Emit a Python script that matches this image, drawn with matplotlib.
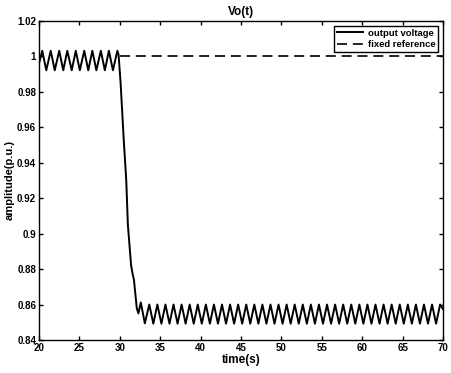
import matplotlib.pyplot as plt

# pre-disturbance oscillation around 1.0 (peaks / troughs)
pre_t = [20.0, 20.4, 20.9, 21.45, 21.95, 22.5, 23.0, 23.5, 24.05, 24.55, 25.05,
         25.6, 26.1, 26.6, 27.1, 27.65, 28.15, 28.65, 29.15, 29.7]
pre_v = [0.996, 1.0032, 0.9922, 1.0032, 0.9922, 1.0032, 0.9922, 1.0032, 0.9922,
         1.0032, 0.9922, 1.0032, 0.9922, 1.0032, 0.9922, 1.0032, 0.9922, 1.0032,
         0.9922, 1.0032]

# transient drop after t = 30 s
drop_t = [29.85, 30.1, 30.5, 30.8, 31.0, 31.4, 31.6, 31.75, 32.1, 32.3, 32.6, 33.1]
drop_v = [1.001, 0.985, 0.952, 0.930, 0.905, 0.882, 0.877, 0.874, 0.858, 0.855,
          0.8612, 0.8494]

# post-disturbance oscillation (peaks ~0.860, troughs ~0.849)
post_peak_t = [33.65, 34.65, 35.65, 36.65, 37.65, 38.65, 39.65, 40.65, 41.65, 42.65,
               43.65, 44.65, 45.65, 46.65, 47.65, 48.65, 49.65, 50.65, 51.65, 52.65,
               53.65, 54.65, 55.65, 56.65, 57.65, 58.65, 59.65, 60.65, 61.65, 62.65,
               63.65, 64.65, 65.65, 66.65, 67.65, 68.65, 69.65]
post_trough_t = [34.15, 35.15, 36.15, 37.15, 38.15, 39.15, 40.15, 41.15, 42.15, 43.15,
                 44.15, 45.15, 46.15, 47.15, 48.15, 49.15, 50.15, 51.15, 52.15, 53.15,
                 54.15, 55.15, 56.15, 57.15, 58.15, 59.15, 60.15, 61.15, 62.15, 63.15,
                 64.15, 65.15, 66.15, 67.15, 68.15, 69.15]
post_peak_v = 0.8600
post_trough_v = 0.8492
end_t, end_v = 70.0, 0.8575

ref_t = [30.0, 70.0]
ref_v = [1.0, 1.0]

xticks = [20, 25, 30, 35, 40, 45, 50, 55, 60, 65, 70]
yticks = [0.84, 0.86, 0.88, 0.9, 0.92, 0.94, 0.96, 0.98, 1.0, 1.02]
ytick_labels = ["0.84", "0.86", "0.88", "0.9", "0.92", "0.94", "0.96", "0.98", "1", "1.02"]

# assemble the post section by alternating peaks and troughs
post_t, post_v = [], []
for i, tp in enumerate(post_peak_t):
    post_t.append(tp)
    post_v.append(post_peak_v)
    if i < len(post_trough_t):
        post_t.append(post_trough_t[i])
        post_v.append(post_trough_v)
post_t.append(end_t)
post_v.append(end_v)

t = pre_t + drop_t + post_t
v = pre_v + drop_v + post_v

plt.rcParams["font.family"] = ["Liberation Sans", "DejaVu Sans"]
plt.rcParams["font.weight"] = "bold"

fig = plt.figure(figsize=(4.52, 3.73), dpi=100)
ax = fig.add_axes([0.0863, 0.0885, 0.8937, 0.8552])

ax.plot(t, v, color="black", lw=1.4, solid_joinstyle="round", label="output voltage")
ax.plot(ref_t, ref_v, color="black", lw=1.2, linestyle=(0, (6, 3.5)),
        label="fixed reference")

ax.set_xlim(20, 70)
ax.set_ylim(0.84, 1.02)
ax.set_xticks(xticks)
ax.set_xticklabels([str(x) for x in xticks])
ax.set_yticks(yticks)
ax.set_yticklabels(ytick_labels)
ax.tick_params(direction="in", top=True, right=True, length=3, width=1,
               labelsize=7, pad=2)
for sp in ax.spines.values():
    sp.set_linewidth(1.0)

ax.set_title("Vo(t)", fontsize=8.5, fontweight="bold", pad=4)
ax.set_xlabel("time(s)", fontsize=8.5, fontweight="bold", labelpad=1)
ax.set_ylabel("amplitude(p.u.)", fontsize=8, fontweight="bold", labelpad=2)

leg = ax.legend(loc="upper right", fontsize=6.8, frameon=True, fancybox=False,
                handlelength=2.8, borderpad=0.3, labelspacing=0.25,
                borderaxespad=0.5, handletextpad=0.5)
leg.get_frame().set_edgecolor("black")
leg.get_frame().set_linewidth(1.0)
leg.get_frame().set_alpha(1.0)

fig.savefig("out.png", dpi=100)
